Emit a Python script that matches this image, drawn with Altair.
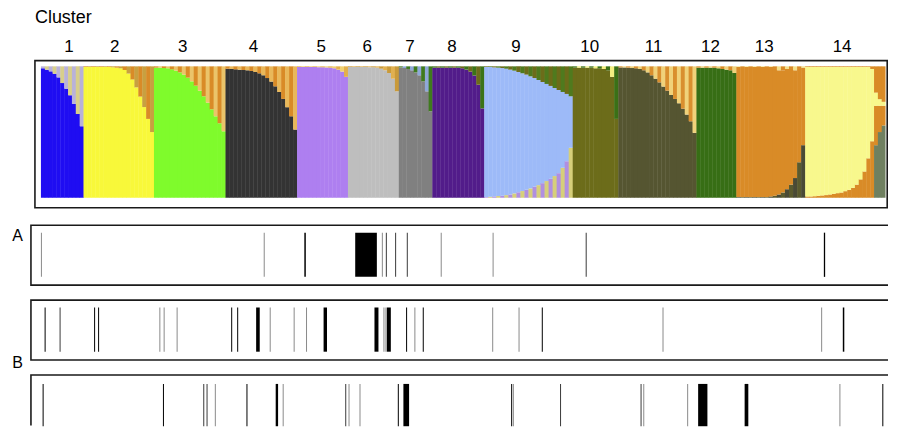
import altair as alt
import pandas as pd

# ---------------- data ----------------
cluster_labels = [str(i) for i in range(1, 15)]
label_pos = [28, 74, 142, 213, 281, 327, 370, 412, 476, 550, 614, 671, 725, 803]
cluster_edges = [0, 42.7, 113.3, 185, 256.7, 307.7, 358.7, 392.3, 444.3, 533, 578.7, 657, 697, 766, 846.5]

main_colors = ["#1F0DF2", "#F8F83A", "#7FFB2C", "#333333", "#AE7FF0", "#BEBEBE", "#808080",
               "#521C8A", "#9DBAF8", "#6C6C1A", "#555531", "#376E15", "#D98B27", "#F8F88D"]
top_colors = ["#B9B2D9", "#D98B27", "#D98B27", "#D98B27", "#E3B04B", "#C99A3A", "#3F7A1E",
              "#3B7318", "#6C6C1A", "#3A7016", "#D98F2E", "#D98B27", "#F3E08A", "#D98B27"]
top_colors2 = ["#D8CF8A", "#C8A040", "#EBC46A", "#E9B85A", "#F0D070", "#E0B050", "#8FA8D8",
               "#6C6C1A", "#4F7A1E", "#F3EE80", "#F0D27A", "#F0D27A", "#D98B27", "#D98B27"]
below_colors = ["#7FFB2C", "#F8F83A", "#F8F83A", "#F8F83A", "#F8F83A", "#F8F83A", "#F8F83A",
                "#F8F83A", "#B08FE0", "#F8F83A", "#A88BD8", "#A88BD8", "#4A4A35", "#D98B27"]
below_colors2 = ["#7FFB2C", "#F8F83A", "#F8F83A", "#F8F83A", "#F8F83A", "#F8F83A", "#F8F83A",
                 "#F8F83A", "#D6CF7A", "#F8F83A", "#A88BD8", "#A88BD8", "#5A5A2E", "#D98B27"]
base_color = "#6F8060"

main_c1 = [0.985, 0.975, 0.962, 0.944, 0.916, 0.873, 0.83, 0.78, 0.714, 0.638, 0.544]
main_c2 = [0.995, 0.995, 0.995, 0.995, 0.995, 0.995, 0.995, 0.993, 0.99, 0.985, 0.972, 0.945,
           0.9, 0.84, 0.77, 0.69, 0.6, 0.5]
main_c3 = [0.99, 0.99, 0.987, 0.985, 0.977, 0.967, 0.954, 0.937, 0.914, 0.886, 0.853, 0.815,
           0.772, 0.724, 0.673, 0.62, 0.567, 0.506]
main_c4 = [0.982, 0.98, 0.977, 0.975, 0.972, 0.97, 0.965, 0.957, 0.947, 0.932, 0.911, 0.884,
           0.848, 0.805, 0.752, 0.689, 0.62, 0.519]
main_c5 = [0.995, 0.995, 0.995, 0.995, 0.995, 0.994, 0.993, 0.992, 0.99, 0.985, 0.975, 0.96, 0.92]
main_c6 = [0.995, 0.995, 0.995, 0.995, 0.995, 0.994, 0.993, 0.99, 0.982, 0.97, 0.949, 0.906, 0.81]
main_c7 = [0.992, 0.987, 0.98, 0.97, 0.954, 0.932, 0.886, 0.81, 0.658]
main_c8 = [0.99, 0.99, 0.99, 0.99, 0.99, 0.99, 0.99, 0.985, 0.975, 0.96, 0.93, 0.86, 0.68]
main_c9 = [0.99, 0.987, 0.982, 0.977, 0.972, 0.962, 0.95, 0.934, 0.916, 0.896, 0.876, 0.853,
           0.827, 0.8, 0.77, 0.739, 0.707, 0.67, 0.633, 0.577, 0.512, 0.392]
below_c9 = [0.005, 0.008, 0.01, 0.013, 0.015, 0.02, 0.025, 0.033, 0.041, 0.051, 0.061, 0.071,
            0.084, 0.096, 0.111, 0.127, 0.144, 0.165, 0.187, 0.228, 0.278, 0.38]
main_c10 = [0.99, 0.99, 0.99, 0.99, 0.99, 0.985, 0.985, 0.98, 0.97, 0.92, 0.6]
main_c11 = [0.992, 0.992, 0.99, 0.987, 0.985, 0.98, 0.97, 0.954, 0.932, 0.906, 0.878, 0.846,
            0.815, 0.782, 0.752, 0.719, 0.678, 0.633, 0.582, 0.494]
main_c12 = [0.99, 0.99, 0.99, 0.99, 0.99, 0.985, 0.98, 0.975, 0.97, 0.95]
main_c13 = [0.99, 0.99, 0.99, 0.99, 0.99, 0.99, 0.99, 0.99, 0.985, 0.965, 0.945, 0.93, 0.915,
            0.88, 0.82, 0.71, 0.59]
below_c13 = [0.005, 0.005, 0.005, 0.005, 0.005, 0.005, 0.005, 0.005, 0.01, 0.015, 0.025, 0.04,
             0.065, 0.1, 0.15, 0.27, 0.4]
main_c14 = [0.985, 0.985, 0.983, 0.98, 0.977, 0.975, 0.97, 0.965, 0.96, 0.955, 0.945, 0.935,
            0.92, 0.895, 0.855, 0.795, 0.695, 0.55, 0.1, 0.05, 0.03]
below_c14 = [0.01, 0.01, 0.012, 0.015, 0.018, 0.02, 0.025, 0.03, 0.035, 0.04, 0.05, 0.06, 0.075,
             0.1, 0.14, 0.2, 0.3, 0.43, 0.3, 0.2, 0.15]
base_c14 = [0, 0, 0, 0, 0, 0, 0, 0, 0, 0, 0, 0, 0, 0, 0, 0, 0, 0, 0.4, 0.5, 0.55]

mains = [main_c1, main_c2, main_c3, main_c4, main_c5, main_c6, main_c7, main_c8, main_c9,
         main_c10, main_c11, main_c12, main_c13, main_c14]
belows = {8: below_c9, 12: below_c13, 13: below_c14}
bases = {13: base_c14}

# tick panels: start position, width (individual index units), shade
a_pos = [0, 223.3, 264, 315, 341.7, 345.7, 355, 366.7, 400.7, 452.7, 546, 784.7]
a_wid = [1, 1, 1.5, 21.7, 1, 1, 1, 1, 1, 1, 1, 1.3]
a_shade = ["g", "g", "k", "k", "g", "d", "d", "d", "g", "g", "d", "k"]

b1_pos = [3.7, 18.7, 53.3, 57.3, 118.7, 123, 136, 190.7, 196.7, 215.7, 229.3, 253.3, 265.7,
          283.3, 334.3, 343.3, 345.3, 346.7, 366, 374.3, 382.7, 452.3, 478.7, 502, 623, 782, 803.7]
b1_wid = [1, 1, 1, 1, 1, 1, 1, 1, 1, 3.6, 1, 1, 1, 3.4, 4, 1, 1, 4, 1, 1, 1, 1, 1, 1, 1, 1, 1.5]
b1_shade = ["k", "d", "k", "k", "g", "g", "g", "k", "k", "k", "g", "g", "g", "k", "k", "g", "g",
            "k", "k", "g", "k", "g", "g", "k", "g", "g", "k"]

b2_pos = [1.7, 122.3, 162.7, 166, 174.3, 206, 235.3, 242.3, 305, 308.3, 319.3, 357.7, 363.3,
          471.3, 473, 520.3, 601, 603.7, 647.7, 658.7, 705.3, 800.3, 843.3]
b2_wid = [1, 1, 1, 1, 1, 1, 2.4, 1, 1, 1, 1, 1, 5.7, 1, 1, 1, 1, 1, 1, 9.3, 3.7, 1, 1]
b2_shade = ["k", "k", "d", "d", "g", "k", "k", "g", "d", "g", "g", "k", "k", "k", "g", "d", "d",
            "g", "g", "k", "k", "g", "k"]

shade_color = {"g": "#8a8a8a", "d": "#3a3a3a", "k": "#000000"}

# ---------------- layout ----------------
FONT = "Liberation Sans"
W = 881
X_LO, X_HI = -32, -32 + W
xscale = alt.Scale(domain=[X_LO, X_HI], nice=False, zero=False)
TOP_H = 208
Y_LO = -(TOP_H - 188.7) / 131.7
Y_HI = Y_LO + TOP_H / 131.7
yscale = alt.Scale(domain=[Y_LO, Y_HI], nice=False, zero=False)

rows = []
for ci in range(14):
    m = mains[ci]
    n = len(m)
    b = belows.get(ci, [0.0] * n)
    z = bases.get(ci, [0.0] * n)
    x0, x1 = cluster_edges[ci], cluster_edges[ci + 1]
    w = (x1 - x0) / n
    for k in range(n):
        xs = x0 + k * w
        xe = xs + w + (0.4 if not (ci == 13 and k == n - 1) else 0)
        tc = top_colors[ci] if k % 2 == 0 else top_colors2[ci]
        bc = below_colors[ci] if k % 2 == 0 else below_colors2[ci]
        lo0 = z[k]
        segs = [(0, lo0, base_color),
                (lo0, lo0 + b[k], bc),
                (lo0 + b[k], lo0 + b[k] + m[k], main_colors[ci]),
                (lo0 + b[k] + m[k], 1.0, tc)]
        for (lo, hi, c) in segs:
            if hi - lo > 1e-6:
                rows.append({"x": xs, "x2": xe, "y": lo, "y2": hi, "col": c})
bars_df = pd.DataFrame(rows)

bars = alt.Chart(bars_df).mark_rect(strokeWidth=0).encode(
    x=alt.X("x:Q", scale=xscale, axis=None),
    x2="x2:Q",
    y=alt.Y("y:Q", scale=yscale, axis=None),
    y2="y2:Q",
    color=alt.Color("col:N", scale=None),
)

frame_top = alt.Chart(pd.DataFrame({"x": [-6], "x2": [848.2]})).mark_rect(
    filled=False, stroke="#1a1a1a", strokeWidth=1.6
).encode(x=alt.X("x:Q", scale=xscale, axis=None), x2="x2:Q",
         y=alt.value(51.3), y2=alt.value(198.7))

labels = alt.Chart(pd.DataFrame({"pos": label_pos, "lab": cluster_labels})).mark_text(
    font=FONT, fontSize=17, align="center", baseline="middle", color="black"
).encode(x=alt.X("pos:Q", scale=xscale, axis=None), y=alt.value(37.5), text="lab:N")

title = alt.Chart(pd.DataFrame({"t": ["Cluster"]})).mark_text(
    font=FONT, fontSize=18, align="left", baseline="middle", color="black"
).encode(x=alt.value(26), y=alt.value(8.5), text="t:N")

top_panel = alt.layer(bars, frame_top, labels, title).properties(width=W, height=TOP_H)


def tick_panel(pos, wid, shade, height, ty0, ty1, fy0, fy1, label=None, label_y=None):
    df = pd.DataFrame({"x": pos, "x2": [p + w for p, w in zip(pos, wid)],
                       "col": [shade_color[s] for s in shade]})
    ticks = alt.Chart(df).mark_rect(strokeWidth=0).encode(
        x=alt.X("x:Q", scale=xscale, axis=None), x2="x2:Q",
        y=alt.value(ty0), y2=alt.value(ty1),
        color=alt.Color("col:N", scale=None),
    )
    frame = alt.Chart(pd.DataFrame({"x": [-10], "x2": [900]})).mark_rect(
        filled=False, stroke="#1a1a1a", strokeWidth=1.6, clip=True
    ).encode(x=alt.X("x:Q", scale=xscale, axis=None), x2="x2:Q",
             y=alt.value(fy0), y2=alt.value(fy1))
    layers = [ticks, frame]
    if label is not None:
        lab = alt.Chart(pd.DataFrame({"t": [label], "x": [-23.5]})).mark_text(
            font=FONT, fontSize=16, align="center", baseline="middle", color="black"
        ).encode(x=alt.X("x:Q", scale=xscale, axis=None), y=alt.value(label_y), text="t:N")
        layers.append(lab)
    return alt.layer(*layers).properties(width=W, height=height)


panel_a = tick_panel(a_pos, a_wid, a_shade, 75, 15.7, 60, 8.3, 68.3, "A", 19.5)
panel_b1 = tick_panel(b1_pos, b1_wid, b1_shade, 75, 15.7, 60, 8.3, 68.3, "B", 71.5)
panel_b2 = tick_panel(b2_pos, b2_wid, b2_shade, 59, 17.3, 59.7, 8.3, 90)

chart = alt.VConcatChart(
    vconcat=[top_panel, panel_a, panel_b1, panel_b2],
    spacing=0, bounds="flush", padding=0,
).configure_view(stroke="transparent")

chart.save("out.html", embed_options={"renderer": "svg", "actions": False})
